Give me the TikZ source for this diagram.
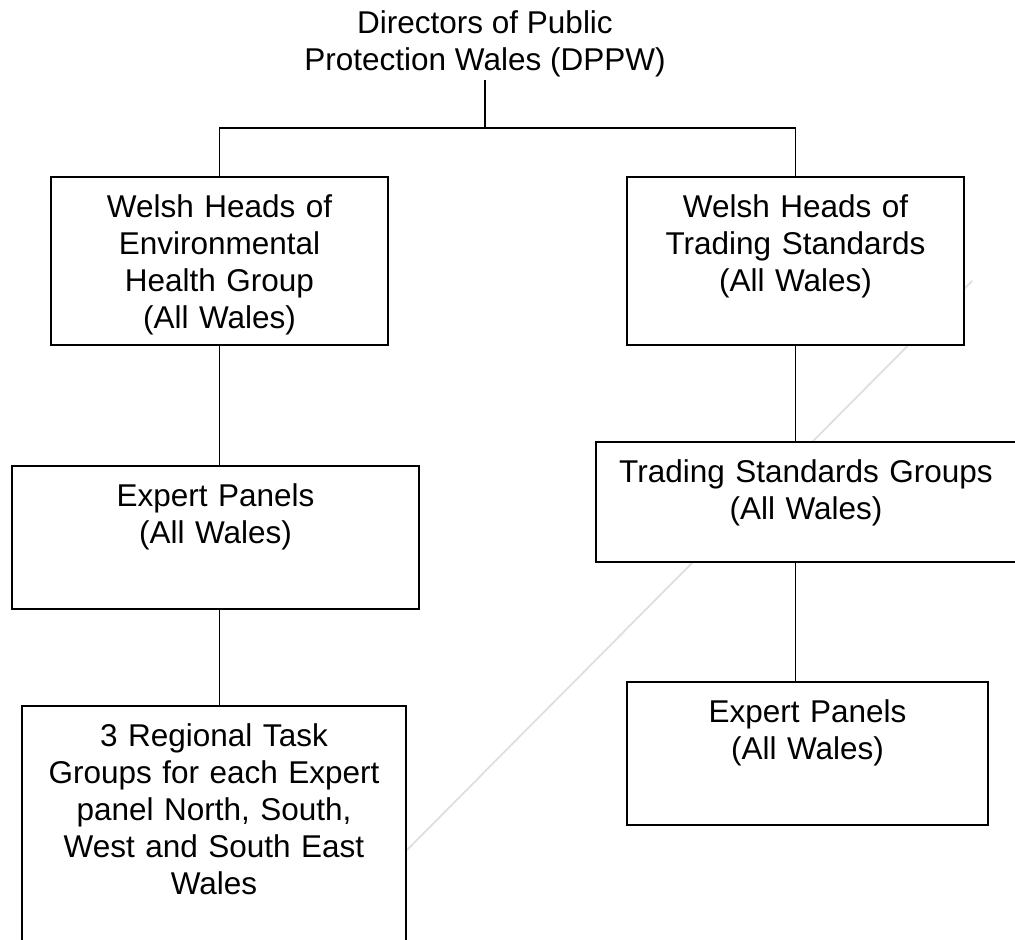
\documentclass[tikz,border=0pt]{standalone}
\usepackage{fontspec}
\setmainfont{Liberation Sans}
\usetikzlibrary{calc}

\begin{document}
\begin{tikzpicture}[x=1pt,y=-1pt,
    every node/.style={font=\fontsize{31.5}{37}\selectfont},
    box/.style={draw,fill=white,line width=2pt,inner sep=0pt,
      align=center,anchor=north,text height=40pt},
    link/.style={line width=1.8pt}]
  \useasboundingbox (0,0) rectangle (1015,940);
  \clip (0,0) rectangle (1015,940);
  % faint stroke behind the chart
  \draw[gray!25,line width=1.8pt] (972,281) -- (407,850);
  \node[anchor=north,inner sep=0pt,align=center,text height=70pt,text depth=10pt]
    (dppw) at (485,0) {Directors of Public\\Protection Wales (DPPW)};
  % left branch
  \node[box,text width=337pt,text depth=128pt] (ehg) at (219.5,176)
    {Welsh Heads of\\Environmental\\Health Group\\(All Wales)};
  \node[box,text width=407pt,text depth=103pt] (panelsL) at (215.5,465)
    {Expert Panels\\(All Wales)};
  \node[box,text width=384pt,text depth=260pt] (tasks) at (214,705)
    {3 Regional Task\\Groups for each Expert\\panel North, South,\\West and South East\\Wales};
  % right branch
  \node[box,text width=337pt,text depth=128pt] (tsh) at (795.5,176)
    {Welsh Heads of\\Trading Standards\\(All Wales)};
  \node[box,text width=420pt,text depth=80pt] (tsg) at (806,441)
    {Trading Standards Groups\\(All Wales)};
  \node[box,text width=361pt,text depth=103pt] (panelsR) at (807.5,681)
    {Expert Panels\\(All Wales)};
  % connectors
  \draw[link] (dppw.south) -- ++(0,48);
  \draw[link] (ehg.north) -- ++(0,-48) -| (tsh.north);
  \draw[link] (ehg.south) -- (ehg.south |- panelsL.north);
  \draw[link] (ehg.south |- panelsL.south) -- (ehg.south |- tasks.north);
  \draw[link] (tsh.south) -- (tsh.south |- tsg.north);
  \draw[link] (tsh.south |- tsg.south) -- (tsh.south |- panelsR.north);
\end{tikzpicture}
\end{document}
